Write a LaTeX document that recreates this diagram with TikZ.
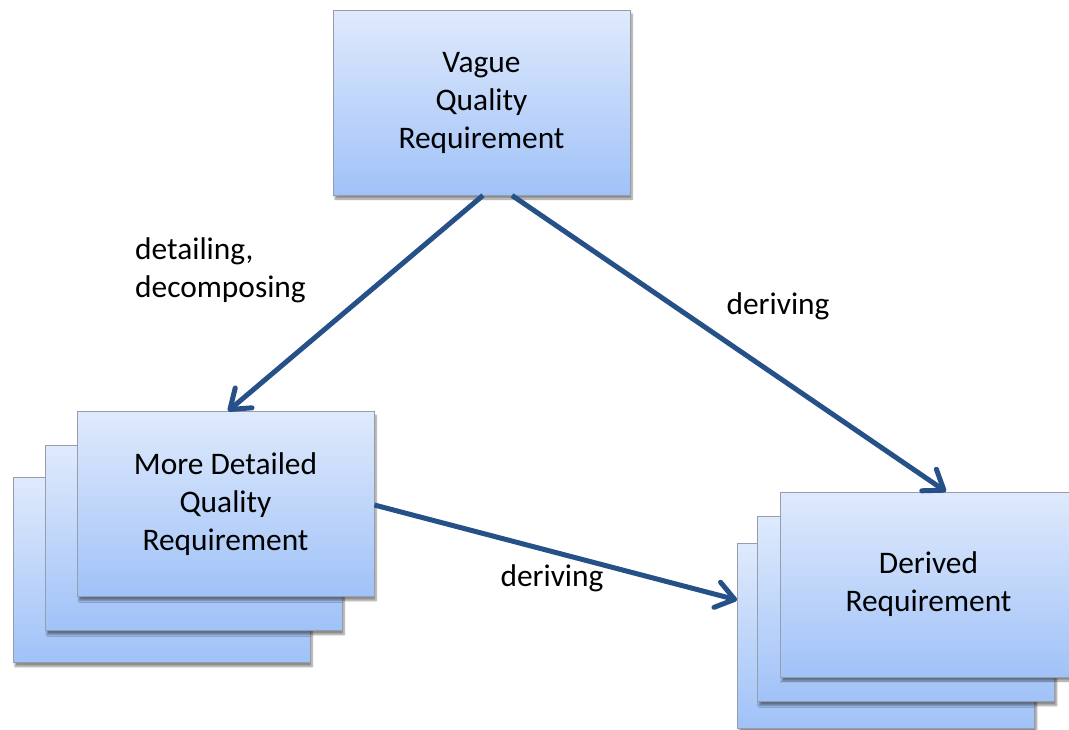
\documentclass[tikz,border=0pt]{standalone}
\usepackage{fontspec}
\setmainfont{Carlito}
\usepackage{tikz}
\usetikzlibrary{arrows.meta,shadows.blur}

\definecolor{boxtop}{RGB}{223,234,252}
\definecolor{boxbottom}{RGB}{160,194,248}
\definecolor{boxline}{RGB}{150,158,172}
\definecolor{arrowblue}{RGB}{38,80,136}

\tikzset{
  req/.style={draw=boxline, line width=0.8pt, rectangle, minimum width=297pt,
    minimum height=185pt, inner sep=0pt, top color=boxtop, bottom color=boxbottom,
    blur shadow={shadow xshift=2pt, shadow yshift=-4pt, shadow blur steps=6, shadow opacity=45},
    align=center, font=\fontsize{31.4}{38}\selectfont},
  lbl/.style={inner sep=0pt, font=\fontsize{31.4}{38}\selectfont},
  flow/.style={draw=arrowblue, line width=5pt, -{Straight Barb[length=18pt,width=26pt,round]}}
}

\begin{document}
\begin{tikzpicture}[x=1pt,y=-1pt]
\useasboundingbox (0,0) rectangle (1069,729);
\clip (0,0) rectangle (1069,729);

\node[req] (vague) at (481.5,102.5) {Vague\\Quality\\Requirement};

\node[req] (detailed2) at (161.5,570) {};
\node[req] (detailed1) at (193.5,538) {};
\node[req] (detailed0) at (225.5,504) {More Detailed\\Quality\\Requirement};

\node[req] (derived2) at (886,636) {};
\node[req] (derived1) at (906,609) {};
\node[req] (derived0) at (928.5,584.5) {Derived\\Requirement};

\node[lbl, align=left, anchor=west] (detailing) at (135,270) {detailing,\\decomposing};
\node[lbl] (derivingtop) at (778,306) {deriving};
\node[lbl] (derivingbottom) at (552,578) {deriving};

\draw [flow] ([xshift=1.5pt]vague.south) -- ([xshift=2.5pt]detailed0.north);
\draw [flow] ([xshift=30.5pt]vague.south) -- ([xshift=17.5pt]derived0.north);
\draw [flow] ([yshift=-1pt]detailed0.east) -- ([yshift=36pt]derived2.west);
\end{tikzpicture}
\end{document}
